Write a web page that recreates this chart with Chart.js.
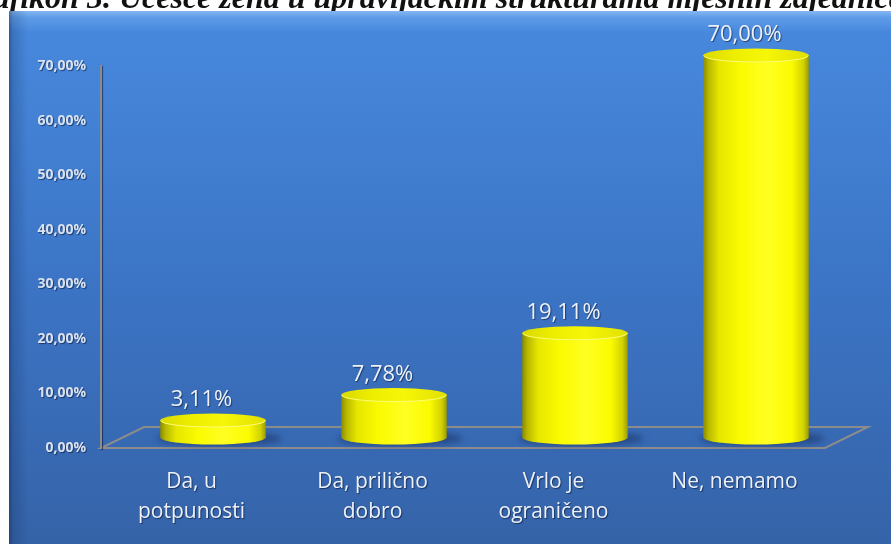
<!DOCTYPE html>
<html>
<head>
<meta charset="utf-8">
<script src="https://cdn.jsdelivr.net/npm/chart.js@4.4.1/dist/chart.umd.min.js"></script>
<style>
html,body{margin:0;padding:0;background:#fff;}
#wrap{position:relative;width:891px;height:544px;overflow:hidden;}
#title{position:absolute;left:0;top:0;width:891px;height:11px;overflow:hidden;z-index:2;}
#title span{position:absolute;left:-42px;top:-19px;white-space:nowrap;font-family:"Liberation Serif",serif;font-weight:bold;font-style:italic;font-size:32px;line-height:32px;color:#111;}
canvas{position:absolute;left:0;top:0;}
</style>
</head>
<body>
<div id="wrap">
<div id="title"><span>Grafikon 3. Učešće žena u upravljačkim strukturama mjesnih zajednica</span></div>
<canvas id="c" width="891" height="544"></canvas>
</div>
<script>
const categories = [['Da, u','potpunosti'],['Da, prilično','dobro'],['Vrlo je','ograničeno'],['Ne, nemamo']];
const values = [3.11, 7.78, 19.11, 70.00];
const valueLabels = ['3,11%','7,78%','19,11%','70,00%'];
const yTickLabels = ['0,00%','10,00%','20,00%','30,00%','40,00%','50,00%','60,00%','70,00%'];

const DX = 43, DY = -21; // 3D floor depth

const bgPlugin = {
  id:'bg',
  beforeDraw(chart){
    const ctx = chart.ctx;
    ctx.save();
    ctx.fillStyle = '#fff';
    ctx.fillRect(0,0,891,544);
    const g = ctx.createLinearGradient(0,11,0,544);
    g.addColorStop(0,'#86b8f2');
    g.addColorStop(0.012,'#5e9ce8');
    g.addColorStop(0.04,'#4788dc');
    g.addColorStop(0.5,'#3c75c6');
    g.addColorStop(1,'#3563a8');
    ctx.fillStyle = g;
    ctx.fillRect(9,11,882,533);
    const h = ctx.createLinearGradient(9,0,28,0);
    h.addColorStop(0,'rgba(10,30,70,0.45)');
    h.addColorStop(0.2,'rgba(10,30,70,0.2)');
    h.addColorStop(1,'rgba(10,30,70,0)');
    ctx.fillStyle = h;
    ctx.fillRect(9,11,19,533);
    // floor
    const ca = chart.chartArea;
    const y0 = chart.scales.y.getPixelForValue(0);
    ctx.strokeStyle = '#8c8c8c';
    ctx.lineWidth = 2;
    ctx.beginPath();
    ctx.moveTo(ca.left, y0);
    ctx.lineTo(ca.right, y0);
    ctx.lineTo(ca.right+DX, y0+DY);
    ctx.lineTo(ca.left+DX, y0+DY);
    ctx.closePath();
    ctx.stroke();
    ctx.restore();
    ctx.save();
    ctx.shadowColor = 'rgba(0,10,40,0.55)';
    ctx.shadowOffsetX = 1;
    ctx.shadowOffsetY = 1;
    ctx.shadowBlur = 1;
  },
  beforeDatasetsDraw(chart){
    chart.ctx.restore();
  }
};

const cylPlugin = {
  id:'cyl',
  afterDatasetsDraw(chart){
    const ctx = chart.ctx;
    const meta = chart.getDatasetMeta(0);
    meta.data.forEach((bar,i)=>{
      const cx = bar.x + DX/2;
      const rx = bar.width/2;
      const ry = 7;
      const base = bar.base + DY/2;
      const top = bar.y + DY/2;
      ctx.save();
      // shadow
      ctx.fillStyle = 'rgba(25,45,95,0.55)';
      ctx.filter = 'blur(3px)';
      ctx.beginPath();
      ctx.ellipse(cx+6, base+1, rx+10, ry, 0, 0, Math.PI*2);
      ctx.fill();
      ctx.filter = 'none';
      // body
      const g = ctx.createLinearGradient(cx-rx,0,cx+rx,0);
      g.addColorStop(0,'#8a8a00');
      g.addColorStop(0.05,'#b8b800');
      g.addColorStop(0.15,'#e6e600');
      g.addColorStop(0.35,'#fafa00');
      g.addColorStop(0.6,'#ffff22');
      g.addColorStop(0.84,'#fbfb00');
      g.addColorStop(0.95,'#d2d200');
      g.addColorStop(1,'#9a9a00');
      ctx.fillStyle = g;
      ctx.beginPath();
      ctx.moveTo(cx-rx, top);
      ctx.lineTo(cx-rx, base);
      ctx.ellipse(cx, base, rx, ry, 0, Math.PI, 0, true);
      ctx.lineTo(cx+rx, top);
      ctx.closePath();
      ctx.fill();
      // top
      const t = ctx.createLinearGradient(cx-rx,0,cx+rx,0);
      t.addColorStop(0,'#dada00');
      t.addColorStop(0.3,'#eeee00');
      t.addColorStop(0.6,'#f6f608');
      t.addColorStop(1,'#e0e000');
      ctx.fillStyle = t;
      ctx.beginPath();
      ctx.ellipse(cx, top, rx, ry, 0, 0, Math.PI*2);
      ctx.fill();
      ctx.strokeStyle = 'rgba(255,255,140,0.85)';
      ctx.lineWidth = 1;
      ctx.beginPath();
      ctx.ellipse(cx, top, rx-0.5, ry-0.5, 0, 0, Math.PI);
      ctx.stroke();
      ctx.restore();
      // label
      ctx.save();
      ctx.font = '22px "Open Sans"';
      ctx.fillStyle = '#eef2f8';
      ctx.textAlign = 'center';
      ctx.textBaseline = 'middle';
      ctx.shadowColor = 'rgba(0,10,40,0.5)';
      ctx.shadowOffsetX = 1; ctx.shadowOffsetY = 1; ctx.shadowBlur = 1;
      ctx.fillText(valueLabels[i], bar.x + 10, bar.y - 31);
      ctx.restore();
    });
  }
};

new Chart(document.getElementById('c'), {
  type:'bar',
  data:{
    labels: categories,
    datasets:[{
      data: values,
      backgroundColor:'rgba(0,0,0,0)',
      borderWidth:0,
      categoryPercentage:1,
      barPercentage:0.583
    }]
  },
  options:{
    responsive:false,
    animation:false,
    devicePixelRatio:1,
    layout:{padding:{left:0,right:66,top:66,bottom:0}},
    plugins:{legend:{display:false},tooltip:{enabled:false}},
    scales:{
      y:{
        min:0,max:70,
        afterFit(s){ s.width = 101; },
        ticks:{stepSize:10,padding:15,color:'#d8e2f0',
          font:{family:'"Open Sans"',size:14,weight:'bold'},
          callback:(v,i)=>yTickLabels[i]},
        grid:{display:false,drawTicks:false},
        border:{display:true,color:'#8c8c8c',width:2}
      },
      x:{
        afterFit(s){ s.height = 96; },
        ticks:{padding:19,color:'#eef2f8',maxRotation:0,
          font:{family:'"Open Sans"',size:21,lineHeight:1.42}},
        grid:{display:false,drawTicks:false},
        border:{display:false}
      }
    }
  },
  plugins:[bgPlugin,cylPlugin]
});
</script>
</body>
</html>
